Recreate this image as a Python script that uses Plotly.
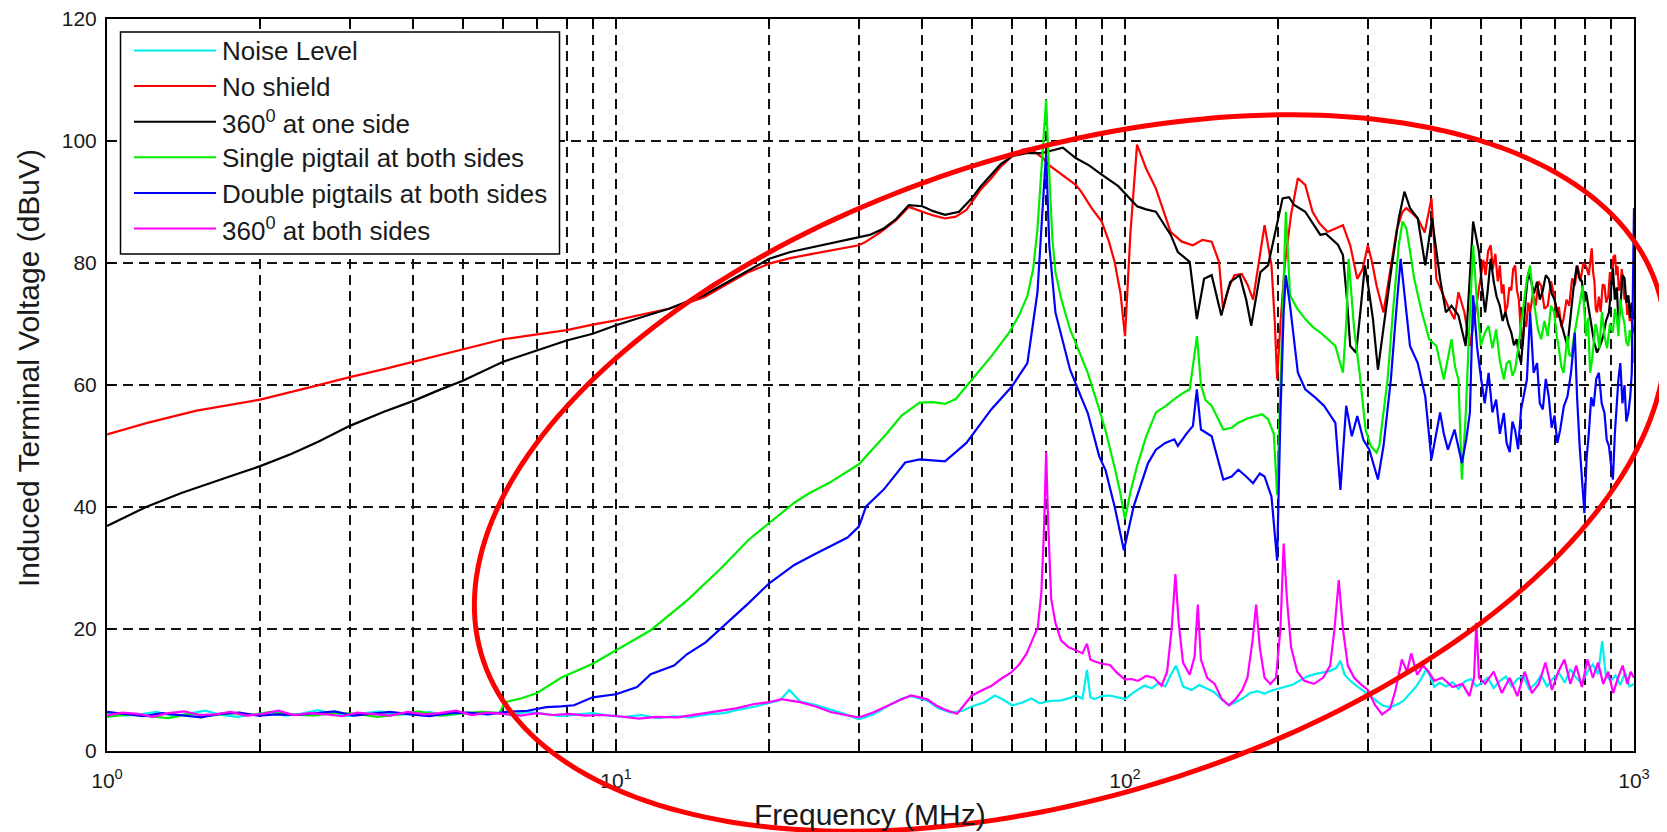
import numpy as np
import plotly.graph_objects as go

# ---------------- data ----------------
LABELS = ["Noise Level", "No shield", "360<sup>0</sup> at one side",
          "Single pigtail at both sides", "Double pigtails at both sides",
          "360<sup>0</sup> at both sides"]
COLORS = ["#00eeee", "#ff0000", "#000000", "#00ee00", "#0000ff", "#ff00ff"]

X_TICK_VALUES = [1, 10, 100, 1000]
X_TICK_TEXT = ["10<sup>0</sup>", "10<sup>1</sup>", "10<sup>2</sup>", "10<sup>3</sup>"]
Y_TICKS = [0, 20, 40, 60, 80, 100, 120]

f_noise = [1.0, 1.08, 1.16, 1.25, 1.35, 1.45, 1.56, 1.68, 1.8, 1.94,
           2.08, 2.24, 2.4, 2.6, 2.8, 3.0, 3.2, 3.45, 3.7, 4.0,
           4.3, 4.6, 5.0, 5.4, 5.8, 6.2, 6.7, 7.2, 7.8, 8.4,
           9.0, 9.7, 10.4, 11.2, 12.1, 13.0, 14.0, 15.1, 16.3, 17.5,
           18.8, 20.0, 21.0, 21.9, 23.0, 24.5, 26.4, 28.3, 30.0, 32.0,
           34.3, 36.5, 38.0, 40.8, 43.0, 45.5, 48.0, 50.0, 53.0, 55.5,
           57.7, 60.0, 62.7, 65.5, 68.0, 71.0, 75.0, 78.0, 80.0, 82.5,
           84.2, 85.5, 87.0, 90.0, 93.4, 97.0, 100, 104, 109, 113,
           116.6, 120, 123, 126, 130, 135, 140, 145, 150, 155,
           160, 165, 170, 176, 182, 188, 194, 200, 207, 214,
           221, 228, 236, 244, 252, 260, 265, 270, 278, 286,
           295, 304, 313, 322, 332, 342, 352, 362, 372, 383,
           390, 396, 405, 415, 427, 440, 452, 465, 478, 490,
           503, 516, 530, 545, 560, 575, 590, 606, 622, 640,
           657, 675, 693, 712, 731, 750, 770, 790, 810, 830,
           850, 866, 880, 900, 920, 940, 960, 980, 1000]
v_noise = [6.2, 5.8, 6.0, 6.4, 5.7, 6.1, 6.6, 5.9, 5.6, 6.0,
           6.3, 5.8, 6.1, 6.7, 6.0, 5.7, 6.2, 6.5, 5.9, 6.1,
           6.4, 5.8, 6.2, 6.0, 6.3, 5.9, 6.4, 6.1, 5.7, 6.0,
           6.2, 5.8, 5.6, 5.9, 5.4, 5.7, 5.5, 6.0, 6.2, 6.8,
           7.3, 7.9, 8.3, 10.0, 8.1, 7.6, 6.8, 6.0, 5.2, 6.0,
           7.4, 8.6, 9.0, 8.3, 7.0, 6.3, 6.6, 7.3, 8.0, 9.1,
           8.4, 7.5, 7.9, 8.6, 7.8, 8.2, 8.3, 8.7, 9.1, 8.6,
           13.3, 8.8, 8.5, 9.0, 9.1, 8.8, 8.5, 9.6, 10.7, 10.3,
           11.2, 10.6, 12.5, 14.0, 10.6, 10.0, 10.8, 10.2, 9.6, 8.4,
           7.5, 8.0, 8.6, 9.5, 9.8, 9.4, 9.9, 10.2, 10.6, 10.9,
           11.6, 12.2, 12.6, 12.9, 13.1, 13.6, 14.8, 12.5, 11.4, 10.6,
           9.8, 9.0, 8.1, 7.4, 7.2, 7.6, 8.2, 9.3, 10.4, 12.0,
           13.3, 12.6, 10.5, 11.2, 10.6, 11.3, 10.2, 11.4, 11.8, 10.6,
           11.2, 12.0, 10.3, 11.5, 12.2, 10.6, 11.8, 12.3, 10.2, 11.0,
           12.4, 10.6, 11.9, 12.8, 11.2, 13.4, 12.0, 11.1, 13.0, 14.2,
           12.6, 18.0, 12.4, 11.5, 12.4, 10.8, 12.8, 10.6, 11.0]

f_noshield = [1.0, 1.2, 1.5, 2.0, 2.5, 3.0, 3.5, 4.0, 5.0, 6.0,
              7.0, 8.0, 9.0, 10.0, 11.3, 12.7, 14.0, 14.9, 16.5, 18.2,
              20.0, 22.0, 24.3, 27.0, 30.0, 31.0, 33.0, 35.5, 37.6, 40.0,
              42.0, 44.3, 46.5, 48.8, 50.0, 52.0, 54.6, 57.0, 60.0, 63.0,
              65.0, 67.0, 69.0, 70.5, 73.0, 76.0, 80.0, 82.0, 86.0, 90.0,
              93.0, 95.4, 98.0, 100.0, 102.5, 105.6, 110.0, 114.9, 118.5, 122.9,
              129.3, 136.0, 142.0, 148.0, 153.0, 155.8, 160.0, 164.0, 169.6, 174.0,
              178.5, 183.0, 188.0, 194.0, 197.0, 199.0, 202.0, 206.0, 212.0, 218.6,
              226.0, 233.6, 241.0, 250.0, 259.0, 268.0, 277.0, 286.0, 293.0, 300.0,
              306.0, 312.0, 322.0, 333.0, 342.0, 351.0, 357.0, 366.0, 376.0, 388.0,
              400.0, 409.0, 416.0, 423.0, 433.0, 444.0, 452.0, 464.0, 476.0, 488.0,
              500, 506, 511, 517, 523, 528, 534, 540, 545, 550,
              554, 559, 564, 569, 574, 579, 584, 589, 594, 599,
              604, 609, 614, 620, 625, 633, 641, 649, 657, 667,
              677, 687, 697, 705, 712, 720, 727, 737, 746, 756,
              765, 775, 785, 795, 805, 815, 826, 831, 836, 841,
              846, 853, 860, 868, 875, 882, 890, 897, 905, 911,
              918, 923, 928, 934, 940, 946, 952, 958, 965, 970,
              975, 981, 988, 994, 1000]
v_noshield = [51.9, 53.8, 55.8, 57.6, 59.6, 61.3, 62.6, 63.8, 65.9, 67.5,
              68.3, 69.0, 69.9, 70.6, 71.6, 72.5, 73.6, 74.4, 76.5, 78.5,
              79.9, 80.8, 81.5, 82.2, 82.9, 83.5, 85.0, 87.0, 89.2, 88.4,
              87.8, 87.3, 87.6, 88.7, 90.0, 92.0, 93.9, 95.8, 97.5, 98.6,
              98.8, 98.0, 97.2, 96.2, 95.3, 94.2, 92.8, 91.7, 89.0, 86.8,
              83.5, 80.2, 75.0, 68.0, 85.0, 99.4, 95.5, 92.3, 89.0, 85.1,
              83.5, 82.9, 83.8, 83.5, 80.2, 72.5, 76.0, 78.0, 78.2, 76.5,
              74.0, 80.0, 86.2, 79.6, 70.0, 60.9, 70.0, 79.6, 88.0, 93.9,
              92.8, 88.4, 86.5, 85.1, 85.6, 86.2, 82.9, 77.4, 79.0, 82.9,
              80.0, 76.3, 71.9, 79.6, 85.5, 88.4, 89.0, 88.2, 87.3, 85.0,
              90.6, 77.4, 76.0, 74.7, 72.5, 70.8, 75.2, 72.0, 66.4, 72.0,
              77.4, 80.5, 78.0, 82.0, 82.9, 79.0, 81.5, 77.0, 79.6, 75.0,
              76.5, 72.0, 73.0, 76.0, 75.5, 79.0, 79.6, 75.5, 74.0, 69.0,
              66.4, 70.5, 69.5, 73.5, 71.9, 75.0, 73.0, 77.0, 76.3, 72.5,
              73.0, 77.0, 74.7, 71.0, 72.8, 69.5, 70.8, 74.0, 73.0, 77.5,
              76.3, 79.5, 77.0, 80.0, 79.5, 78.0, 82.4, 78.5, 77.0, 72.5,
              71.9, 74.5, 72.0, 76.5, 76.3, 73.5, 74.5, 78.5, 77.0, 81.0,
              81.3, 78.0, 79.5, 75.5, 76.0, 79.0, 77.0, 74.0, 74.7, 71.5,
              73.0, 70.5, 71.5, 68.5, 69.7]

f_one = [1.0, 1.1, 1.2, 1.4, 1.6, 1.8, 2.0, 2.3, 2.6, 3.0,
         3.5, 4.0, 4.5, 5.0, 6.0, 7.0, 8.0, 9.0, 10.0, 11.3,
         12.7, 14.0, 14.9, 16.5, 18.2, 20.0, 22.0, 24.3, 27.0, 30.0,
         31.5, 33.5, 35.5, 37.6, 40.0, 42.0, 44.3, 47.2, 50.0, 52.0,
         54.6, 57.0, 60.0, 64.0, 68.4, 72.0, 75.5, 80.0, 85.0, 90.0,
         97.0, 105.6, 110.0, 115.0, 119.0, 123.0, 127.0, 134.0, 138.4, 143.0,
         148.0, 151.0, 154.6, 158.0, 161.0, 168.0, 173.0, 177.0, 184.5, 191.0,
         197.0, 204.0, 210.0, 215.0, 226.0, 234.0, 242.0, 248.0, 254.6, 262.0,
         268.0, 273.0, 277.0, 284.5, 290.0, 296.0, 302.0, 307.0, 314.0, 322.0,
         333.0, 345.0, 354.0, 363.0, 376.0, 389.0, 401.0, 416.0, 427.0, 438.0,
         452.0, 467.0, 483.0,
         496, 503, 510, 516, 523, 530, 537, 545, 552, 559,
         566, 574, 581, 588, 594, 600, 606, 613, 620, 628,
         636, 645, 653, 662, 671, 680, 689, 698, 707, 716,
         728, 740, 750, 761, 772, 781, 790, 798, 805, 815,
         825, 835, 846, 858, 870, 881, 893, 901, 909, 917,
         925, 932, 940, 949, 958, 966, 975, 983, 990, 1000]
v_one = [36.9, 38.6, 40.1, 42.3, 44.0, 45.4, 46.7, 48.7, 50.7, 53.3,
         55.6, 57.4, 59.2, 60.7, 63.8, 65.7, 67.3, 68.4, 69.8, 71.2,
         72.5, 73.9, 74.7, 76.8, 78.8, 80.7, 81.8, 82.6, 83.4, 84.3,
         84.6, 85.6, 87.2, 89.5, 89.3, 88.5, 87.9, 88.4, 90.6, 92.5,
         94.5, 96.2, 97.5, 98.0, 98.0, 98.5, 98.9, 97.2, 96.0, 94.5,
         92.6, 89.3, 88.8, 88.4, 86.5, 84.6, 81.8, 80.2, 70.8, 77.4,
         78.0, 75.0, 71.4, 74.5, 76.9, 78.0, 74.0, 69.7, 78.5, 79.6,
         84.6, 90.6, 90.8, 89.5, 88.4, 86.5, 84.6, 84.8, 84.0, 83.0,
         81.3, 74.0, 66.4, 65.3, 72.0, 79.6, 75.0, 70.8, 62.5, 69.7,
         78.5, 87.3, 91.7, 89.0, 87.3, 79.6, 87.3, 77.4, 71.9, 73.0,
         71.4, 66.4, 86.8,
         81.8, 76.0, 71.9, 75.5, 80.7, 77.0, 74.5, 73.0, 70.5, 72.0,
         70.0, 68.6, 66.5, 67.5, 65.0, 63.6, 68.0, 74.5, 78.5, 77.0,
         75.0, 76.9, 74.0, 75.5, 78.0, 77.4, 75.0, 74.0, 72.0, 70.8,
         68.5, 66.4, 71.0, 76.0, 79.6, 77.5, 77.0, 73.5, 75.2, 72.5,
         70.0, 67.0, 65.3, 66.5, 68.0, 70.5, 71.9, 76.0, 79.1, 74.0,
         76.0, 70.5, 72.5, 78.0, 77.5, 73.5, 74.7, 71.0, 73.5, 70.8]

f_single = [1.0, 1.1, 1.2, 1.32, 1.45, 1.6, 1.75, 1.92, 2.1, 2.3,
            2.55, 2.8, 3.1, 3.4, 3.75, 4.1, 4.5, 5.0, 5.5, 5.9,
            6.05, 6.5, 7.0, 7.8, 9.0, 10.0, 11.7, 13.8, 16.2, 18.2,
            20.0, 22.4, 24.0, 26.3, 30.0, 32.0, 34.0, 36.4, 39.5, 42.0,
            44.3, 46.5, 50.0, 54.6, 59.2, 62.0, 64.3, 66.0, 67.3, 68.3,
            69.0, 69.6, 70.0, 70.5, 71.0, 72.0, 73.0, 75.0, 78.0, 84.5,
            89.0, 91.6, 95.4, 97.8, 100.0, 102.5, 105.6, 110.0, 115.0, 120.0,
            125.0, 129.0, 134.0, 138.5, 141.0, 144.0, 148.0, 156.0, 162.0, 167.0,
            174.0, 181.0, 186.0, 191.0, 196.0, 199.0, 202.0, 205.0, 207.0, 211.0,
            218.0, 226.0, 234.0, 242.0, 250.0, 259.0, 268.0, 272.0, 275.0, 282.0,
            289.0, 297.0, 304.0, 312.0, 316.0, 322.0, 328.0, 336.0, 345.0, 351.0,
            357.0, 363.0, 370.0, 383.0, 396.0, 409.0, 416.0, 423.0, 430.0, 438.0,
            445.0, 452.0, 459.0, 467.0, 475.0, 483.0, 491.0,
            500, 509, 518, 527, 536, 545, 555, 562, 570, 577,
            584, 592, 600, 608, 616, 625, 632, 640, 648, 657,
            667, 677, 687, 697, 705, 712, 720, 727, 734, 740,
            746, 753, 761, 770, 781, 793, 799, 805, 812, 820,
            827, 833, 840, 846, 855, 865, 875, 885, 897, 909,
            917, 925, 932, 940, 949, 958, 966, 975, 981, 988,
            994, 1000]
v_single = [5.6, 6.0, 5.7, 5.4, 6.1, 5.8, 6.2, 5.9, 6.4, 6.0,
            5.8, 6.3, 6.1, 5.6, 6.0, 6.5, 5.8, 6.2, 6.4, 6.2,
            8.0, 8.6, 9.5, 12.0, 14.3, 16.5, 19.8, 24.7, 30.2, 34.6,
            37.4, 40.7, 42.3, 44.0, 47.0, 49.5, 52.0, 55.0, 57.1, 57.2,
            56.9, 57.7, 60.9, 64.7, 68.6, 71.5, 74.6, 79.0, 85.6, 93.0,
            99.3, 104.0, 106.8, 100.0, 93.8, 84.0, 78.5, 74.0, 69.1, 62.0,
            56.0, 52.5, 46.5, 42.5, 38.0, 42.5, 46.7, 51.5, 55.5, 56.5,
            57.7, 58.5, 59.3, 68.0, 60.0, 57.5, 56.6, 52.7, 53.0, 53.8,
            54.5, 54.9, 55.2, 54.4, 52.0, 42.0, 60.0, 80.0, 88.4, 74.7,
            72.5, 70.8, 69.5, 68.6, 67.5, 66.4, 62.0, 70.0, 80.7, 69.1,
            62.0, 52.6, 50.0, 48.9, 50.0, 56.0, 60.9, 72.0, 82.9, 86.8,
            85.7, 82.0, 77.4, 71.9, 67.5, 66.4, 63.5, 60.9, 64.0, 67.5,
            63.0, 60.9, 44.5, 55.0, 70.0, 82.9, 74.0,
            66.4, 68.5, 69.7, 66.0, 69.1, 64.0, 60.9, 63.5, 64.0, 61.5,
            62.5, 66.0, 70.0, 74.0, 77.4, 79.6, 75.0, 72.0, 69.0, 67.5,
            70.5, 68.0, 73.0, 71.9, 68.0, 66.0, 63.0, 62.0, 66.0, 68.0,
            65.0, 64.7, 67.5, 70.0, 73.5, 76.3, 72.0, 68.0, 71.0, 62.0,
            64.0, 66.5, 70.0, 69.1, 66.0, 72.0, 68.0, 66.0, 70.0, 68.6,
            72.5, 71.0, 68.0, 74.1, 71.5, 70.0, 67.0, 66.4, 69.0, 68.0,
            65.0, 63.6]

f_double = [1.0, 1.09, 1.18, 1.28, 1.4, 1.53, 1.67, 1.82, 1.98, 2.16,
            2.36, 2.58, 2.8, 3.05, 3.3, 3.6, 3.95, 4.3, 4.7, 5.1,
            5.6, 6.1, 6.7, 7.3, 7.8, 8.27, 9.0, 10.0, 11.0, 11.7,
            13.0, 13.8, 15.0, 16.2, 18.2, 20.0, 22.4, 24.5, 26.3, 28.5,
            30.0, 31.0, 33.6, 37.0, 39.5, 42.0, 44.3, 48.8, 54.6, 60.0,
            64.3, 67.3, 69.0, 69.6, 70.0, 70.4, 71.0, 73.0, 78.0, 82.0,
            84.5, 89.0, 91.6, 95.4, 99.5, 104.0, 111.0, 115.0, 120.0, 125.0,
            127.0, 132.0, 136.0, 138.4, 141.0, 148.0, 156.0, 162.0, 167.0, 173.0,
            178.5, 184.0, 188.0, 194.0, 199.0, 202.0, 205.0, 207.0, 211.0, 218.6,
            226.0, 236.0, 246.0, 259.0, 265.0, 272.0, 279.0, 286.0, 294.0, 302.0,
            314.0, 322.0, 333.0, 341.0, 348.0, 355.0, 363.0, 376.0, 389.0, 400.0,
            408.0, 416.0, 423.0, 431.0, 444.0, 452.0, 459.0, 468.0, 476.0, 483.0,
            492.0,
            501, 509, 518, 527, 536, 545, 555, 562, 570, 577,
            584, 592, 600, 608, 616, 625, 635, 645, 653, 662,
            671, 680, 689, 698, 707, 716, 728, 740, 752, 765,
            773, 782, 790, 799, 807, 815, 824, 833, 843, 853,
            864, 875, 884, 893, 901, 909, 917, 925, 932, 940,
            949, 958, 966, 975, 983, 990, 996, 1000]
v_double = [6.4, 6.0, 5.7, 6.2, 5.9, 5.5, 6.1, 6.3, 5.8, 6.0,
            5.9, 6.2, 6.5, 5.8, 6.1, 6.4, 6.0, 5.7, 6.2, 6.3,
            6.0, 6.4, 6.6, 7.2, 7.3, 7.5, 8.8, 9.3, 10.5, 12.6,
            14.0, 15.9, 17.8, 20.3, 24.2, 27.5, 30.5, 32.2, 33.5, 35.0,
            36.8, 40.1, 42.9, 47.3, 47.8, 47.6, 47.5, 50.5, 56.0, 59.8,
            63.6, 75.2, 91.1, 95.0, 97.7, 92.0, 82.9, 71.9, 62.5, 58.0,
            55.4, 48.3, 46.0, 40.1, 32.9, 40.1, 47.2, 49.4, 50.5, 51.1,
            50.0, 52.0, 53.3, 59.3, 52.7, 51.6, 44.5, 45.0, 46.1, 45.0,
            43.9, 45.5, 45.0, 41.7, 31.2, 55.0, 72.0, 78.0, 73.0, 62.0,
            59.3, 58.0, 56.6, 53.8, 42.8, 56.6, 51.6, 54.9, 51.0, 49.4,
            44.5, 50.0, 61.0, 72.0, 80.7, 74.0, 66.4, 63.6, 58.1, 47.8,
            52.0, 55.5, 52.0, 49.4, 52.7, 50.0, 47.2, 51.0, 55.5, 74.7,
            66.0,
            60.9, 57.0, 62.0, 55.5, 57.6, 52.0, 55.4, 50.5, 49.0, 54.0,
            52.6, 49.5, 56.0, 58.5, 60.9, 71.9, 62.0, 63.6, 57.0, 56.0,
            61.0, 58.1, 53.0, 55.0, 50.5, 52.6, 56.5, 58.1, 62.0, 68.6,
            58.0, 50.0, 45.0, 39.0, 48.0, 52.0, 58.0, 56.5, 61.0, 62.0,
            57.0, 55.4, 51.0, 50.0, 47.0, 44.5, 52.0, 58.0, 61.0, 63.6,
            57.0, 60.0, 54.0, 55.5, 58.0, 62.0, 75.0, 89.0]

f_both = [1.0, 1.07, 1.15, 1.23, 1.32, 1.42, 1.52, 1.63, 1.75, 1.88,
          2.02, 2.17, 2.33, 2.5, 2.7, 2.9, 3.1, 3.35, 3.6, 3.9,
          4.2, 4.5, 4.85, 5.2, 5.6, 6.0, 6.5, 7.0, 7.5, 8.1,
          8.7, 9.4, 10.1, 11.1, 12.0, 13.2, 14.4, 15.7, 17.2, 18.7,
          20.0, 21.1, 23.0, 24.7, 26.4, 28.2, 30.0, 32.0, 34.3, 36.2,
          38.0, 40.8, 42.5, 44.5, 46.8, 50.0, 52.5, 54.7, 57.0, 59.6,
          62.0, 64.1, 66.0, 67.4, 68.5, 69.3, 70.0, 70.6, 71.6, 73.0,
          74.9, 77.5, 80.0, 82.5, 84.2, 85.5, 87.0, 90.0, 93.4, 96.5,
          100, 103, 106, 110, 114, 118, 121, 123.5, 125.6, 127.5,
          130, 134, 137, 139, 141, 145, 150, 155, 160, 165,
          170, 174, 178, 181, 184, 188, 193, 198, 202, 205,
          208, 212, 218, 225, 235, 245, 253, 258, 263, 268,
          274, 282, 290, 300, 310, 320, 332, 340, 350, 358,
          365, 375, 385, 395, 405, 420, 440, 460, 475, 485,
          490, 496, 510, 530, 550, 570, 590, 610, 630, 650,
          670, 690, 710, 730, 750, 770, 790, 810, 830, 850,
          870, 890, 910, 930, 950, 970, 985, 1000]
v_both = [5.8, 6.3, 6.1, 5.6, 6.2, 6.5, 5.9, 6.0, 6.4, 5.8,
          6.1, 6.6, 5.9, 6.2, 6.0, 5.7, 6.3, 6.1, 5.8, 6.4,
          6.0, 6.2, 6.6, 5.9, 6.3, 6.1, 5.8, 6.2, 5.9, 6.1,
          5.8, 5.9, 5.7, 5.3, 5.6, 5.5, 6.0, 6.4, 7.0, 7.7,
          8.0, 8.5, 8.0, 7.3, 6.4, 5.9, 5.5, 6.3, 7.5, 8.4,
          9.1, 8.5, 7.5, 6.7, 6.1, 9.1, 10.0, 10.7, 11.8, 12.8,
          14.2, 16.0, 18.5, 20.3, 26.0, 36.0, 49.0, 38.0, 25.0, 21.0,
          18.1, 17.0, 16.5, 16.0, 17.6, 15.0, 14.7, 14.3, 14.1, 12.8,
          11.7, 11.8, 11.5, 12.3, 12.0, 10.7, 13.0, 20.0, 29.0, 21.0,
          14.5, 12.5, 15.5, 24.0, 15.0, 12.0, 11.0, 8.5, 7.5, 8.5,
          10.0, 12.0, 18.0, 24.0, 17.0, 12.0, 11.0, 12.0, 20.0, 34.0,
          25.0, 17.0, 13.0, 11.5, 11.0, 12.0, 14.0, 20.0, 28.0, 20.0,
          14.0, 12.0, 11.0, 10.0, 7.5, 6.0, 7.0, 10.0, 15.0, 13.0,
          16.0, 12.5, 14.0, 13.0, 11.5, 12.0, 10.5, 11.0, 9.0, 12.0,
          21.0, 12.0, 11.0, 13.0, 9.5, 12.0, 9.0, 13.0, 9.5, 11.0,
          14.5, 10.0, 13.0, 15.0, 11.0, 14.0, 10.5, 15.0, 12.0, 14.5,
          11.0, 13.0, 9.5, 12.0, 14.0, 11.0, 13.0, 12.0]

SERIES = [(f_noise, v_noise), (f_noshield, v_noshield), (f_one, v_one),
          (f_single, v_single), (f_double, v_double), (f_both, v_both)]

# ---------------- geometry ----------------
# the page body has an 8px margin, so the figure is made 8px smaller and
# every position below is given in page pixels
BODY = 8
W, H = 1667 - BODY, 832 - BODY
PL, PT, PR, PB = 107, 19, 1634, 751          # plot area in page pixels
PW, PH = PR - PL, PB - PT
ML, MT = PL - BODY, PT - BODY
MR, MB = W - ML - PW, H - MT - PH


def px(x):
    return (x - PL) / PW


def py(y):
    return (PB - y) / PH


fig = go.Figure()
for (fx, vy), name, col in zip(SERIES, LABELS, COLORS):
    n = min(len(fx), len(vy))
    fig.add_trace(go.Scatter(x=fx[:n], y=vy[:n], mode="lines", name=name,
                             line=dict(color=col, width=2.2), showlegend=False))

grid_vals = [m * 10 ** d for d in range(3) for m in range(1, 10)] + [1000]
grid_text = [X_TICK_TEXT[X_TICK_VALUES.index(v)] if v in X_TICK_VALUES else "" for v in grid_vals]

FONT = "Liberation Sans, Arial, Helvetica, sans-serif"
TXT = "#1a1a1a"

axis_common = dict(showgrid=True, gridcolor="#111111", gridwidth=1.7, griddash="10px,6px",
                   ticks="inside", ticklen=7, tickwidth=1.5, tickcolor="black",
                   showline=True, linecolor="black", linewidth=2, mirror="ticks",
                   zeroline=False, automargin=False, ticklabeloverflow="allow",
                   tickfont=dict(size=21, color=TXT, family=FONT))

fig.update_layout(
    width=W, height=H, autosize=False,
    margin=dict(l=ML, r=MR, t=MT, b=MB, pad=0, autoexpand=False),
    paper_bgcolor="white", plot_bgcolor="white",
    font=dict(family=FONT, color=TXT),
    xaxis=dict(type="log", range=[0, 3], tickvals=grid_vals, ticktext=grid_text,
               ticklabelstandoff=10, **axis_common),
    yaxis=dict(range=[0, 120], tickvals=Y_TICKS, ticklabelstandoff=4, **axis_common),
)

shapes = []
annotations = []

# legend box (custom, MATLAB-like long samples)
LB_X0, LB_X1, LB_Y0, LB_Y1 = 120.5, 559.5, 32.0, 254.0
shapes.append(dict(type="rect", xref="paper", yref="paper",
                   x0=px(LB_X0), x1=px(LB_X1), y0=py(LB_Y1), y1=py(LB_Y0),
                   line=dict(color="black", width=1.5), fillcolor="white", layer="above"))
for i, (name, col) in enumerate(zip(LABELS, COLORS)):
    yy = 50.5 + 35.6 * i
    shapes.append(dict(type="line", xref="paper", yref="paper",
                       x0=px(134), x1=px(216), y0=py(yy), y1=py(yy),
                       line=dict(color=col, width=2), layer="above"))
    annotations.append(dict(text=name, xref="paper", yref="paper", x=px(220), y=py(yy + 1),
                            xanchor="left", yanchor="middle", showarrow=False,
                            font=dict(size=26, color=TXT, family=FONT)))

# axis titles
annotations.append(dict(text="Frequency (MHz)", xref="paper", yref="paper",
                        x=px(870), y=py(814), xanchor="center", yanchor="middle",
                        showarrow=False, font=dict(size=30, color=TXT, family=FONT)))
annotations.append(dict(text="Induced Terminal Voltage (dBuV)", xref="paper", yref="paper",
                        x=px(28), y=py(368), xanchor="center", yanchor="middle", textangle=-90,
                        showarrow=False, font=dict(size=30, color=TXT, family=FONT)))

# red highlight ellipse drawn over the chart
cx, cy, a, b, phi = 1070.0, 473.0, 616.0, 322.0, np.deg2rad(17.4)
t = np.linspace(0, 2 * np.pi, 240)
ex = cx + a * np.cos(t) * np.cos(phi) + b * np.sin(t) * np.sin(phi)
ey = cy - a * np.cos(t) * np.sin(phi) + b * np.sin(t) * np.cos(phi)
path = "M " + " L ".join(f"{px(x):.5f},{py(y):.5f}" for x, y in zip(ex, ey)) + " Z"
shapes.append(dict(type="path", xref="paper", yref="paper", path=path,
                   line=dict(color="#ff0000", width=5), fillcolor="rgba(0,0,0,0)", layer="above"))

fig.update_layout(shapes=shapes, annotations=annotations)
fig.write_html("out.html")
